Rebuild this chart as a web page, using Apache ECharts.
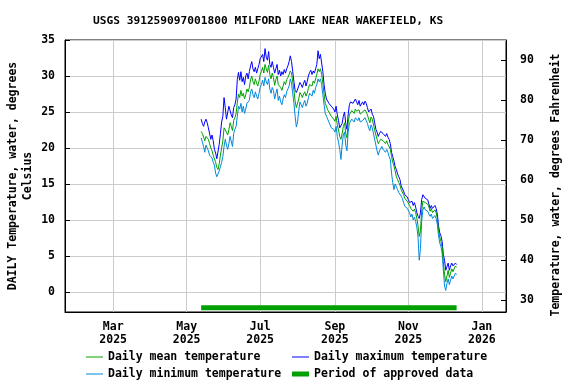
<!DOCTYPE html>
<html><head><meta charset="utf-8">
<script src="https://cdn.jsdelivr.net/npm/echarts@6/dist/echarts.min.js"></script>
<style>html,body{margin:0;padding:0;background:#fff}#c{width:576px;height:384px}</style>
</head><body><div id="c"></div>
<script>
const titleText = 'USGS 391259097001800 MILFORD LAKE NEAR WAKEFIELD, KS';
const startDate = '2025-05-13';
const approvedStart = '2025-05-13';
const approvedEnd = '2025-12-11';
const approvedLevel = -2.2;
const xTickDates = ['2025-03-01','2025-05-01','2025-07-01','2025-09-01','2025-11-01','2026-01-01'];
const xTickLabels = ['Mar\n2025','May\n2025','Jul\n2025','Sep\n2025','Nov\n2025','Jan\n2026'];
const cTicks = [0,5,10,15,20,25,30,35];
const fTicks = [30,40,50,60,70,80,90];

const meanT = [
22.3,22.0,21.5,21.0,21.6,21.8,21.2,20.6,20.0,19.6,
19.0,18.8,18.0,17.3,17.0,17.8,19.0,20.0,21.0,22.8,
23.0,22.2,21.8,22.5,23.5,23.0,22.4,23.8,24.2,24.8,
26.3,27.5,27.0,28.0,27.2,27.6,26.8,27.4,28.2,27.8,
28.4,29.5,30.0,29.2,28.8,29.6,29.0,28.6,29.3,30.2,
30.6,31.2,30.4,31.6,31.0,30.5,31.5,30.2,29.6,30.4,
29.8,28.7,29.5,30.0,28.8,29.0,28.4,28.0,28.6,29.2,
28.8,29.5,29.8,30.2,30.7,30.4,29.2,28.0,26.5,25.6,
25.8,26.8,27.7,27.4,27.0,27.5,27.8,27.2,27.6,28.3,
28.8,29.0,28.6,29.3,29.0,29.6,30.2,31.0,30.6,31.0,
30.2,29.0,27.5,26.2,25.8,25.3,25.0,24.8,24.4,24.2,
24.0,23.7,24.4,23.2,22.5,21.6,21.2,22.0,23.0,23.5,
22.0,21.4,23.5,24.6,24.8,25.2,25.0,24.8,25.4,25.1,
24.9,25.3,24.7,24.5,25.0,24.8,25.3,25.0,24.6,24.0,
23.5,24.3,24.0,23.8,22.5,21.8,21.2,20.6,20.9,21.2,
21.4,21.0,20.8,20.6,21.0,20.5,20.2,19.8,18.8,18.0,
17.5,16.8,16.0,15.6,15.2,14.8,14.2,14.0,13.5,13.0,
12.8,12.6,12.4,12.0,11.6,11.8,11.2,11.5,11.0,10.2,
9.2,7.7,8.5,11.2,12.6,12.8,12.4,12.6,12.2,11.8,
11.2,11.6,11.0,10.8,11.4,11.0,10.2,8.6,7.6,7.0,
6.2,4.2,2.4,1.4,2.2,3.0,2.0,2.6,3.2,2.8,
3.2,3.6,3.4];

const maxT = [
24.0,23.4,23.0,23.6,24.0,23.5,22.8,22.6,21.2,21.8,
21.0,19.8,19.3,18.5,18.3,20.5,22.0,23.6,24.4,27.0,
25.6,24.0,23.8,25.8,25.2,24.6,24.2,25.6,26.0,26.8,
29.5,30.5,29.4,30.6,29.2,29.8,28.8,30.0,30.4,29.6,
30.6,31.4,32.0,31.0,30.6,31.2,30.4,31.0,31.6,32.4,
32.6,33.0,32.0,33.8,32.6,32.2,33.4,31.6,31.2,32.0,
31.2,30.4,31.0,31.6,30.2,30.8,30.0,30.6,30.2,30.9,
30.4,31.0,31.4,32.0,32.8,32.0,30.6,29.2,28.0,27.7,
27.8,28.6,29.1,28.8,28.4,29.0,29.4,28.6,29.2,30.0,
30.5,30.8,30.2,30.7,30.4,31.0,31.6,33.5,32.4,33.0,
31.8,30.6,28.8,27.6,26.8,26.5,26.2,26.0,25.8,25.6,
25.4,25.0,25.8,24.6,23.8,22.8,22.6,23.4,24.4,25.0,
23.4,22.6,24.6,26.0,26.4,26.6,26.2,26.0,26.8,26.4,
26.0,26.6,25.8,25.6,26.4,26.0,26.5,26.2,25.6,25.0,
24.8,25.4,24.7,24.4,23.5,22.6,22.2,21.6,22.0,22.3,
22.4,22.0,21.8,21.6,22.0,21.5,21.2,20.6,19.4,18.8,
18.2,17.4,17.0,16.4,16.0,15.6,14.7,14.6,14.0,13.5,
13.3,13.2,12.8,12.4,12.2,12.6,12.0,12.4,11.8,11.0,
10.5,10.2,11.0,12.8,13.5,13.4,13.0,13.2,12.8,12.2,
11.6,12.0,11.6,11.4,12.0,11.6,10.8,9.2,8.2,7.8,
7.0,5.2,4.4,3.0,3.5,4.0,3.0,3.6,4.0,3.6,
3.8,4.0,3.8];

const minT = [
21.4,20.8,20.2,19.4,20.4,20.0,19.6,19.0,18.8,18.6,
18.0,17.6,16.5,16.0,16.2,16.8,17.4,18.0,18.8,20.2,
21.2,20.4,19.8,20.6,21.6,21.4,20.2,22.0,22.6,23.0,
24.4,25.8,25.4,26.2,25.0,25.8,24.8,25.4,26.2,26.0,
26.6,27.8,28.2,27.4,27.0,27.8,27.2,26.8,27.6,28.4,
28.8,29.4,28.6,29.8,29.2,28.8,29.6,28.2,27.6,28.4,
28.0,26.8,27.6,28.2,26.6,27.2,26.4,26.0,26.8,27.4,
27.0,27.8,28.2,28.6,29.6,29.0,27.6,26.2,24.4,22.9,
23.6,25.2,26.4,26.0,25.6,26.2,26.6,25.8,26.2,27.0,
27.6,27.8,27.2,28.0,27.6,28.4,28.8,29.6,29.2,29.6,
28.8,27.4,26.0,24.8,24.4,24.0,23.6,23.4,22.8,22.6,
22.6,22.2,23.0,21.6,20.8,19.8,18.4,20.4,21.8,22.2,
20.4,19.6,22.2,23.4,23.6,24.0,23.8,23.6,24.2,24.0,
23.8,24.2,23.6,23.4,23.8,23.6,24.2,23.8,23.4,22.8,
22.4,23.2,22.8,22.6,21.2,20.4,19.6,19.0,19.6,19.8,
20.2,19.8,19.6,19.4,19.8,19.4,18.8,18.4,16.5,15.2,
14.2,15.0,14.6,14.2,13.8,13.6,13.3,13.0,12.4,11.9,
11.8,11.6,11.4,11.0,10.4,10.8,10.0,10.4,9.8,9.0,
7.6,4.4,6.0,9.8,11.4,11.8,11.4,11.6,11.2,10.8,
10.5,10.8,10.2,10.0,10.6,10.2,9.4,7.8,6.8,6.3,
5.4,3.0,0.8,0.2,1.2,1.8,1.0,1.6,2.2,1.8,
2.2,2.6,2.4];

const DAY = 86400000;
const ts = s => Date.parse(s + 'T00:00:00Z');
const t0 = ts(startDate);
const pair = arr => arr.map((v, i) => [t0 + i * DAY, v]);
const FONT = 'DejaVu Sans Mono';
const txt = {fontFamily: FONT, fontWeight: 'bold', fontSize: 11.5, color: '#000'};
const xTickVals = xTickDates.map(ts);
const tickLabelMap = {};
xTickVals.forEach((v, i) => tickLabelMap[v] = xTickLabels[i]);

const cMin = -2.8, cMax = 35;
const chart = echarts.init(document.getElementById('c'), null, {renderer: 'canvas'});
const legendBase = {orient: 'horizontal', itemWidth: 17, textStyle: txt, padding: 0, selectedMode: false};
chart.setOption({
  animation: false,
  backgroundColor: '#fff',
  title: {text: titleText, left: 93, top: 16, padding: 0,
    textStyle: {fontFamily: FONT, fontWeight: 'bold', fontSize: 11.2, color: '#000'}},
  grid: {left: 65, right: 70, top: 40, bottom: 72, show: true, borderColor: '#000', borderWidth: 1,
    containLabel: false, outerBoundsMode: 'none'},
  legend: [
    Object.assign({}, legendBase, {left: 86, top: 351, itemHeight: 1, data: [{name: 'Daily mean temperature', icon: 'rect'}]}),
    Object.assign({}, legendBase, {left: 292, top: 351, itemHeight: 1, data: [{name: 'Daily maximum temperature', icon: 'rect'}]}),
    Object.assign({}, legendBase, {left: 86, top: 368, itemHeight: 1, data: [{name: 'Daily minimum temperature', icon: 'rect'}]}),
    Object.assign({}, legendBase, {left: 292, top: 368, itemHeight: 5, data: [{name: 'Period of approved data', icon: 'rect'}]})
  ],
  xAxis: {
    type: 'value', min: ts('2025-01-20'), max: ts('2026-01-21'),
    axisLine: {show: true, onZero: false, lineStyle: {color: '#000'}},
    axisTick: {show: false, customValues: xTickVals},
    axisLabel: Object.assign({}, txt, {customValues: xTickVals, margin: 9, lineHeight: 13,
      formatter: v => tickLabelMap[v] || ''}),
    splitLine: {show: true, lineStyle: {color: '#cccccc', width: 1}}
  },
  yAxis: [
    {
      type: 'value', min: cMin, max: cMax,
      name: 'DAILY Temperature, water, degrees\nCelsius', nameLocation: 'middle', nameGap: 29, nameRotate: 90,
      nameMoveOverlap: false,
      nameTextStyle: Object.assign({}, txt, {lineHeight: 15}),
      axisLine: {show: true, lineStyle: {color: '#000'}},
      axisTick: {show: true, inside: true, length: 5, customValues: cTicks, lineStyle: {color: '#000'}},
      axisLabel: Object.assign({}, txt, {customValues: cTicks, margin: 10}),
      splitLine: {show: true, lineStyle: {color: '#cccccc', width: 1}}
    },
    {
      type: 'value', min: cMin * 1.8 + 32, max: cMax * 1.8 + 32, position: 'right',
      name: 'Temperature, water, degrees Fahrenheit', nameLocation: 'middle', nameGap: 44, nameRotate: 90,
      nameMoveOverlap: false,
      nameTextStyle: Object.assign({}, txt, {padding: [0, 0, 0, -18]}),
      axisLine: {show: true, lineStyle: {color: '#000'}},
      axisTick: {show: true, inside: true, length: 5, customValues: fTicks, lineStyle: {color: '#000'}},
      axisLabel: Object.assign({}, txt, {customValues: fTicks, margin: 14}),
      splitLine: {show: false}
    }
  ],
  series: [
    {name: 'Daily maximum temperature', type: 'line', data: pair(maxT), showSymbol: false, symbol: 'none',
      color: '#0000ff', lineStyle: {width: 1, color: '#0000ff'}},
    {name: 'Daily minimum temperature', type: 'line', data: pair(minT), showSymbol: false, symbol: 'none',
      color: '#0088dd', lineStyle: {width: 1, color: '#0088dd'}},
    {name: 'Daily mean temperature', type: 'line', data: pair(meanT), showSymbol: false, symbol: 'none',
      color: '#00a000', lineStyle: {width: 1, color: '#00a000'}},
    {name: 'Period of approved data', type: 'line', data: [[ts(approvedStart), approvedLevel], [ts(approvedEnd), approvedLevel]],
      showSymbol: false, symbol: 'none', color: '#00a000', lineStyle: {width: 5, color: '#00a000', cap: 'butt'}}
  ]
});
</script></body></html>
